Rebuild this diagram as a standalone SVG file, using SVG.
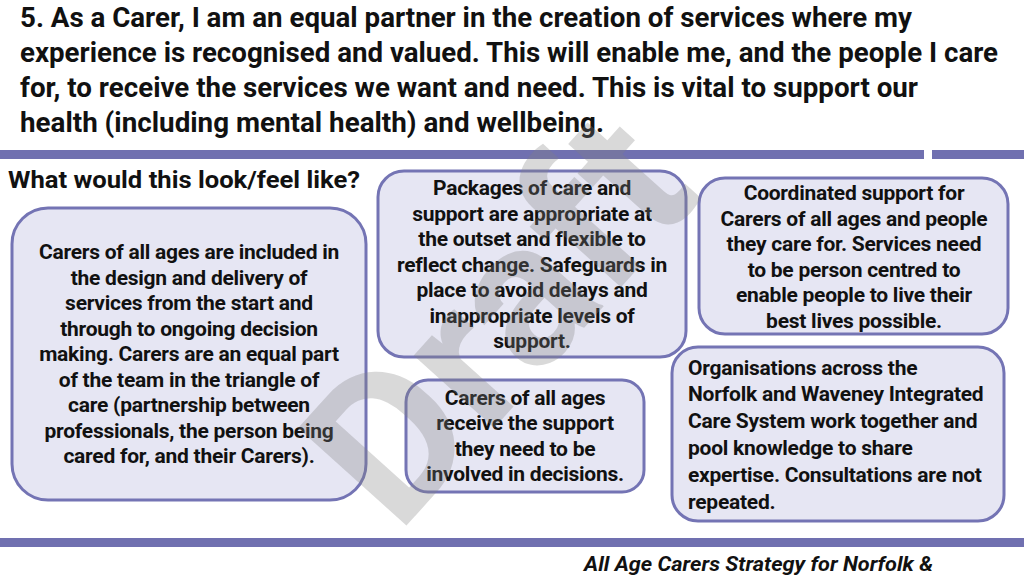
<svg xmlns="http://www.w3.org/2000/svg" width="1024" height="576" viewBox="0 0 1024 576">
<style>
.h{font-family:Roboto,"Liberation Sans",sans-serif;font-weight:bold;font-size:27px;fill:#111}
.t{font-family:Roboto,"Liberation Sans",sans-serif;font-weight:bold;font-size:21px;letter-spacing:-0.25px;fill:#111;text-anchor:middle}
.l{text-anchor:start}
.b{fill:#e6e6f3;stroke:#7474b4;stroke-width:3}
</style>
<rect width="1024" height="576" fill="#fff"/>
<g id="header">
<text class="h" x="20" y="27" textLength="892" lengthAdjust="spacingAndGlyphs">5. As a Carer, I am an equal partner in the creation of services where my</text>
<text class="h" x="20" y="62" textLength="978" lengthAdjust="spacingAndGlyphs">experience is recognised and valued. This will enable me, and the people I care</text>
<text class="h" x="20" y="97" textLength="898" lengthAdjust="spacingAndGlyphs">for, to receive the services we want and need. This is vital to support our</text>
<text class="h" x="20" y="132" textLength="584" lengthAdjust="spacingAndGlyphs">health (including mental health) and wellbeing.</text>
</g>
<rect x="0" y="150" width="924" height="9" fill="#7070b0"/>
<rect x="932" y="150" width="92" height="9" fill="#7070b0"/>
<rect x="0" y="538" width="1024" height="9" fill="#7070b0"/>
<text class="h" x="8" y="188" style="font-size:23px" textLength="352" lengthAdjust="spacingAndGlyphs">What would this look/feel like?</text>
<g id="n1"><rect class="b" x="12" y="208" width="354" height="292" rx="36"/>
<text class="t" x="189" y="259">Carers of all ages are included in</text>
<text class="t" x="189" y="285">the design and delivery of</text>
<text class="t" x="189" y="310">services from the start and</text>
<text class="t" x="189" y="336">through to ongoing decision</text>
<text class="t" x="189" y="361">making. Carers are an equal part</text>
<text class="t" x="189" y="387">of the team in the triangle of</text>
<text class="t" x="189" y="412">care (partnership between</text>
<text class="t" x="189" y="438">professionals, the person being</text>
<text class="t" x="189" y="463">cared for, and their Carers).</text></g>
<g id="n2"><rect class="b" x="378" y="171" width="308" height="186" rx="26"/>
<text class="t" x="532" y="195">Packages of care and</text>
<text class="t" x="532" y="221">support are appropriate at</text>
<text class="t" x="532" y="246">the outset and flexible to</text>
<text class="t" x="532" y="272">reflect change. Safeguards in</text>
<text class="t" x="532" y="297">place to avoid delays and</text>
<text class="t" x="532" y="323">inappropriate levels of</text>
<text class="t" x="532" y="348">support.</text></g>
<g id="n3"><rect class="b" x="699" y="178" width="309" height="156" rx="26"/>
<text class="t" x="854" y="200">Coordinated support for</text>
<text class="t" x="854" y="226">Carers of all ages and people</text>
<text class="t" x="854" y="251">they care for. Services need</text>
<text class="t" x="854" y="277">to be person centred to</text>
<text class="t" x="854" y="302">enable people to live their</text>
<text class="t" x="854" y="328">best lives possible.</text></g>
<g id="n4"><rect class="b" x="406" y="380" width="238" height="112" rx="22"/>
<text class="t" x="525" y="405">Carers of all ages</text>
<text class="t" x="525" y="430">receive the support</text>
<text class="t" x="525" y="456">they need to be</text>
<text class="t" x="525" y="481">involved in decisions.</text></g>
<g id="n5"><rect class="b" x="672" y="347" width="332" height="174" rx="26"/>
<text class="t l" x="688" y="375">Organisations across the</text>
<text class="t l" x="688" y="401">Norfolk and Waveney Integrated</text>
<text class="t l" x="688" y="428">Care System work together and</text>
<text class="t l" x="688" y="455">pool knowledge to share</text>
<text class="t l" x="688" y="482">expertise. Consultations are not</text>
<text class="t l" x="688" y="509">repeated.</text></g>
<text x="495" y="390" transform="rotate(-48 495 315)" text-anchor="middle" font-family="Roboto,'Liberation Sans',sans-serif" font-weight="bold" font-size="205" fill="#808080" fill-opacity="0.3">Draft</text>
<text x="584" y="571" font-family="Roboto,'Liberation Sans',sans-serif" font-weight="bold" font-style="italic" font-size="21" fill="#111" textLength="349" lengthAdjust="spacingAndGlyphs">All Age Carers Strategy for Norfolk &amp;</text>
</svg>
